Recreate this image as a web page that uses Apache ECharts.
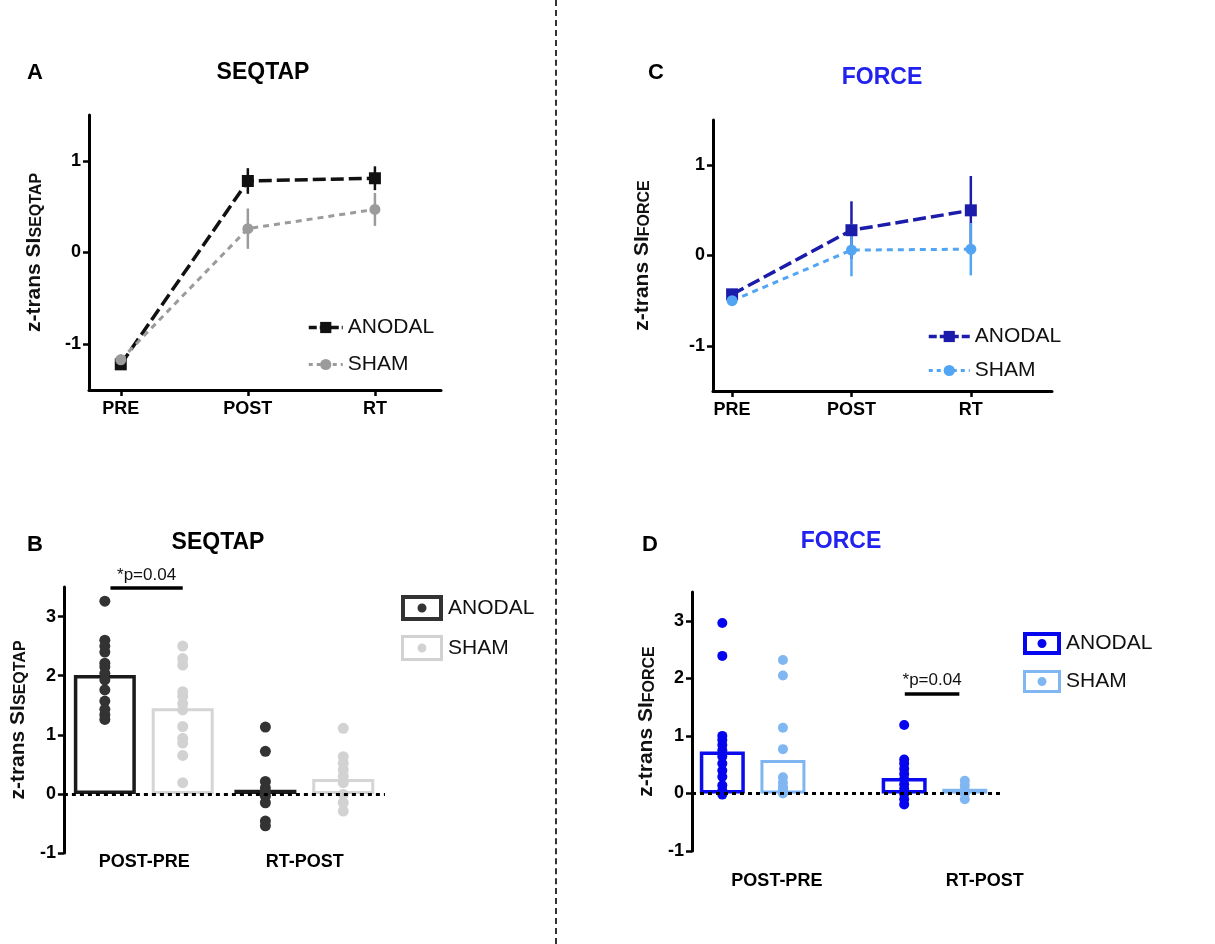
<!DOCTYPE html>
<html>
<head>
<meta charset="utf-8">
<script src="https://cdn.jsdelivr.net/npm/echarts@6/dist/echarts.min.js"></script>
<style>
  body { margin: 0; background: #fff; }
  #wrap { position: relative; width: 1215px; height: 944px; overflow: hidden; }
  .panel { position: absolute; }
  #divider { position: absolute; left: 555px; top: 0; height: 944px; border-left: 2px dashed #333; }
</style>
</head>
<body>
<div id="wrap">
  <div id="pa" class="panel" style="left:0;top:0;width:555px;height:472px"></div>
  <div id="pc" class="panel" style="left:600px;top:0;width:615px;height:472px"></div>
  <div id="pb" class="panel" style="left:0;top:472px;width:555px;height:472px"></div>
  <div id="pd" class="panel" style="left:600px;top:472px;width:615px;height:472px"></div>
  <div id="divider"></div>
</div>
<script>
// time points (A, C)
const phases = ['PRE', 'POST', 'RT'];
const seqAnodalMean = [-1.22, 0.78, 0.81];
const seqAnodalErr = [0.06, 0.14, 0.13];
const seqShamMean = [-1.17, 0.26, 0.47];
const seqShamErr = [0.06, 0.22, 0.18];
const forceAnodalMean = [-0.43, 0.28, 0.50];
const forceAnodalErr = [0.06, 0.32, 0.38];
const forceShamMean = [-0.50, 0.06, 0.07];
const forceShamErr = [0.05, 0.29, 0.29];

// differences (B, D)
const diffs = ['POST-PRE', 'RT-POST'];
const seqBarAnodal = [2.01, 0.07];
const seqBarSham = [1.45, 0.25];
const seqDotsAnodal = [
  [3.26, 2.60, 2.50, 2.40, 2.21, 2.15, 2.04, 1.93, 1.76, 1.57, 1.43, 1.34, 1.26],
  [1.13, 0.72, 0.21, 0.10, 0.02, -0.04, -0.15, -0.46, -0.54]
];
const seqDotsSham = [
  [2.50, 2.29, 2.18, 1.73, 1.65, 1.53, 1.42, 1.14, 0.94, 0.86, 0.65, 0.19],
  [1.11, 0.63, 0.52, 0.41, 0.30, 0.19, -0.01, -0.15, -0.29]
];
const forceBarAnodal = [0.73, 0.27];
const forceBarSham = [0.58, 0.08];
const forceDotsAnodal = [
  [2.96, 2.39, 1.00, 0.93, 0.84, 0.75, 0.64, 0.52, 0.40, 0.29, 0.14, 0.05, -0.02],
  [1.19, 0.59, 0.52, 0.43, 0.34, 0.25, 0.16, 0.08, -0.01, -0.10, -0.19]
];
const forceDotsSham = [
  [2.32, 2.05, 1.14, 0.77, 0.28, 0.19, 0.11, 0.02, 0.00, 0.03, 0.05, 0.10],
  [0.22, 0.14, 0.06, -0.01, -0.10]
];

const SANS = '"Liberation Sans", Arial, sans-serif';
const NARROW = '"Liberation Sans Narrow", "Arial Narrow", "Liberation Sans", sans-serif';

function heading(letter, lx, title, tx, ty, color) {
  return [
    {type: 'text', x: lx, y: 73, style: {text: letter, font: 'bold 22px ' + SANS, fill: '#000', align: 'center', verticalAlign: 'middle'}},
    {type: 'text', x: tx, y: ty, style: {text: title, font: 'bold 23px ' + SANS, fill: color, align: 'center', verticalAlign: 'middle'}}
  ];
}

function yName(sub, gap) {
  return {
    name: '{m|z-trans SI}{s|' + sub + '}',
    nameLocation: 'middle',
    nameGap: gap,
    nameTextStyle: {
      rich: {
        m: {fontSize: 21, fontWeight: 'bold', fontFamily: SANS, color: '#111', lineHeight: 24, verticalAlign: 'bottom'},
        s: {fontSize: 16, fontWeight: 'bold', fontFamily: SANS, color: '#111', lineHeight: 16, verticalAlign: 'bottom'}
      }
    }
  };
}

function errBars(name, means, errs, color) {
  return {
    type: 'custom',
    name: name,
    data: means.map((m, i) => [i, m, errs[i]]),
    encode: {x: 0, y: 1},
    renderItem: function (params, api) {
      const x = api.value(0), m = api.value(1), e = api.value(2);
      const p1 = api.coord([x, m - e]);
      const p2 = api.coord([x, m + e]);
      return {type: 'line', shape: {x1: p1[0], y1: p1[1], x2: p2[0], y2: p2[1]},
        style: {stroke: color, lineWidth: 2.5}};
    }
  };
}

function linePanel(o) {
  return {
    animation: false,
    graphic: heading(o.letter, o.lx, o.title, o.tx, o.ty, o.titleColor),
    grid: o.grid,
    legend: {
      orient: 'vertical', left: o.legend[0], top: o.legend[1], itemWidth: o.legend[2], itemHeight: 14,
      itemGap: o.legend[3], itemGap: o.legend[3],
      data: [
        {name: 'ANODAL', lineStyle: {width: 3.5, type: [8, 3]}},
        {name: 'SHAM', lineStyle: {width: 3, type: [4, 4]}}
      ],
      textStyle: {fontFamily: NARROW, fontSize: 21, color: '#111'}
    },
    xAxis: {
      type: 'value', min: o.xMin, max: o.xMax,
      axisLine: {onZero: false, lineStyle: {color: '#000', width: 3}},
      axisTick: {show: true, customValues: [0, 1, 2], length: 6, lineStyle: {color: '#000', width: 2.5}},
      axisLabel: {customValues: [0, 1, 2], formatter: v => phases[v], margin: 10,
        fontFamily: SANS, fontWeight: 'bold', fontSize: 18, color: '#000'},
      splitLine: {show: false}
    },
    yAxis: Object.assign({
      type: 'value', min: -1.5, max: 1.5,
      axisLine: {show: true, onZero: false, lineStyle: {color: '#000', width: 3}},
      axisTick: {show: true, customValues: [-1, 0, 1], length: 6, lineStyle: {color: '#000', width: 2.5}},
      axisLabel: {customValues: [-1, 0, 1], margin: 8, fontFamily: SANS, fontWeight: 'bold', fontSize: 18, color: '#000'},
      splitLine: {show: false}
    }, yName(o.sub, o.nameGap)),
    series: [
      errBars('errA', o.aMean, o.aErr, o.aColor),
      {
        type: 'line', name: 'ANODAL', data: o.aMean.map((v, i) => [i, v]),
        symbol: 'rect', symbolSize: 12, itemStyle: {color: o.aColor},
        lineStyle: {color: o.aColor, width: 3.5, type: [13, 5]}
      },
      errBars('errS', o.sMean, o.sErr, o.sColor),
      {
        type: 'line', name: 'SHAM', data: o.sMean.map((v, i) => [i, v]),
        symbol: 'circle', symbolSize: 11, itemStyle: {color: o.sColor},
        lineStyle: {color: o.sColor, width: 3, type: [6, 5]}
      }
    ]
  };
}

function boxIcon(w, h, b, r) {
  const cx = w / 2, cy = h / 2;
  return 'path://M0,0H' + w + 'V' + h + 'H0Z M' + b + ',' + b + 'V' + (h - b) + 'H' + (w - b) + 'V' + b + 'Z ' +
    'M' + (cx - r) + ',' + cy + 'a' + r + ',' + r + ' 0 1,0 ' + (2 * r) + ',0a' + r + ',' + r + ' 0 1,0 ' + (-2 * r) + ',0Z';
}

function barPanel(o) {
  const pos = (g, off) => g.map(x => x + off);
  const aX = pos(o.groups, o.offA), sX = pos(o.groups, o.offS);
  const dots = (arrs, xs) => arrs.flatMap((arr, i) => arr.map(v => [xs[i], v]));
  return {
    animation: false,
    graphic: heading(o.letter, o.lx, o.title, o.tx, o.ty, o.titleColor),
    grid: o.grid,
    legend: {
      orient: 'vertical', left: o.legend[0], top: o.legend[1], itemWidth: o.legend[2], itemHeight: o.legend[3],
      itemGap: o.legend[4],
      data: [
        {name: 'ANODAL', icon: boxIcon(o.legend[2], o.legend[3], 4, 4.5), itemStyle: {color: o.aColor, borderWidth: 0}},
        {name: 'SHAM', icon: boxIcon(o.legend[2], o.legend[3], 3, 4.5), itemStyle: {color: o.sColor, borderWidth: 0}}
      ],
      textStyle: {fontFamily: NARROW, fontSize: 21, color: '#111'}
    },
    xAxis: {
      type: 'value', min: 0, max: o.xMax,
      axisLine: {show: false, onZero: false},
      axisTick: {show: false},
      axisLabel: {customValues: o.labelX, formatter: v => diffs[o.labelX.indexOf(v)], margin: o.labelMargin,
        fontFamily: SANS, fontWeight: 'bold', fontSize: 18, color: '#000'},
      splitLine: {show: false}
    },
    yAxis: Object.assign({
      type: 'value', min: -1, max: 3.5,
      axisLine: {show: true, onZero: false, lineStyle: {color: '#000', width: 3}},
      axisTick: {show: true, customValues: [-1, 0, 1, 2, 3], length: 6, lineStyle: {color: '#000', width: 2.5}},
      axisLabel: {customValues: [-1, 0, 1, 2, 3], margin: 8, fontFamily: SANS, fontWeight: 'bold', fontSize: 18, color: '#000'},
      splitLine: {show: false}
    }, yName(o.sub, o.nameGap)),
    series: [
      {
        type: 'bar', name: 'ANODAL', data: o.aBar.map((v, i) => [aX[i], v]),
        barWidth: o.barWidth, barGap: '-100%',
        itemStyle: {color: 'rgba(0,0,0,0)', borderColor: o.aBorder, borderWidth: 3.5}
      },
      {
        type: 'bar', name: 'SHAM', data: o.sBar.map((v, i) => [sX[i], v]),
        barWidth: o.barWidth, barGap: '-100%',
        itemStyle: {color: 'rgba(0,0,0,0)', borderColor: o.sBorder, borderWidth: 3},
        markLine: {
          silent: true, symbol: ['none', 'none'], label: {show: false},
          lineStyle: {color: '#000', type: [4, 4], width: 3},
          data: [{yAxis: 0}]
        }
      },
      {
        type: 'scatter', name: 'ANODAL', data: dots(o.aDots, aX), symbolSize: o.dotSize,
        itemStyle: {color: o.aColor, opacity: 1}
      },
      {
        type: 'scatter', name: 'SHAM', data: dots(o.sDots, sX), symbolSize: o.dotSize,
        itemStyle: {color: o.sColor, opacity: 1},
        markLine: {
          silent: true, symbol: ['none', 'none'],
          lineStyle: {color: '#000', type: 'solid', width: 3.5},
          label: {show: true, formatter: '*p=0.04', position: 'insideMiddleTop', distance: 4,
            fontFamily: NARROW, fontSize: 17, color: '#111'},
          data: [[{coord: o.sig[0]}, {coord: o.sig[1]}]]
        }
      }
    ]
  };
}

echarts.init(document.getElementById('pa')).setOption(linePanel({
  letter: 'A', lx: 35, title: 'SEQTAP', tx: 263, ty: 73, titleColor: '#000',
  grid: {left: 89, top: 115, width: 352, height: 275},
  legend: [302, 312, 34, 16],
  xMin: -0.25, xMax: 2.52, sub: 'SEQTAP', nameGap: 44,
  aMean: seqAnodalMean, aErr: seqAnodalErr, aColor: '#111111',
  sMean: seqShamMean, sErr: seqShamErr, sColor: '#9b9b9b'
}));

echarts.init(document.getElementById('pc')).setOption(linePanel({
  letter: 'C', lx: 56, title: 'FORCE', tx: 282, ty: 78, titleColor: '#2121f0',
  grid: {left: 113, top: 120, width: 339, height: 271},
  legend: [322, 321, 41, 13],
  xMin: -0.16, xMax: 2.68, sub: 'FORCE', nameGap: 60,
  aMean: forceAnodalMean, aErr: forceAnodalErr, aColor: '#1c1caa',
  sMean: forceShamMean, sErr: forceShamErr, sColor: '#52a5f2'
}));

echarts.init(document.getElementById('pb')).setOption(barPanel({
  letter: 'B', lx: 35, title: 'SEQTAP', tx: 218, ty: 71, titleColor: '#000',
  grid: {left: 55, top: 115, width: 330, height: 266},
  legend: [396, 118, 42, 26, 14],
  xMax: 4, groups: [1, 3], offA: -0.49, offS: 0.48, labelX: [1, 3], labelMargin: 0,
  barWidth: 62, dotSize: 11, sub: 'SEQTAP', nameGap: 30,
  aBar: seqBarAnodal, sBar: seqBarSham, aDots: seqDotsAnodal, sDots: seqDotsSham,
  aColor: '#333333', aBorder: '#1b1b1b', sColor: '#d2d2d2', sBorder: '#d5d5d5',
  sig: [[0.58, 3.48], [1.48, 3.48]]
}));

echarts.init(document.getElementById('pd')).setOption(barPanel({
  letter: 'D', lx: 50, title: 'FORCE', tx: 241, ty: 70, titleColor: '#2121f0',
  grid: {left: 92, top: 120, width: 311, height: 259},
  legend: [418, 155, 38, 23, 15],
  xMax: 5.13, groups: [1, 4], offA: -0.5, offS: 0.5, labelX: [1.4, 4.83], labelMargin: 21,
  barWidth: 45, dotSize: 10, sub: 'FORCE', nameGap: 29,
  aBar: forceBarAnodal, sBar: forceBarSham, aDots: forceDotsAnodal, sDots: forceDotsSham,
  aColor: '#0606ee', aBorder: '#0b0bf0', sColor: '#80b7f3', sBorder: '#7fb6f2',
  sig: [[3.51, 1.74], [4.41, 1.74]]
}));
</script>
</body>
</html>
